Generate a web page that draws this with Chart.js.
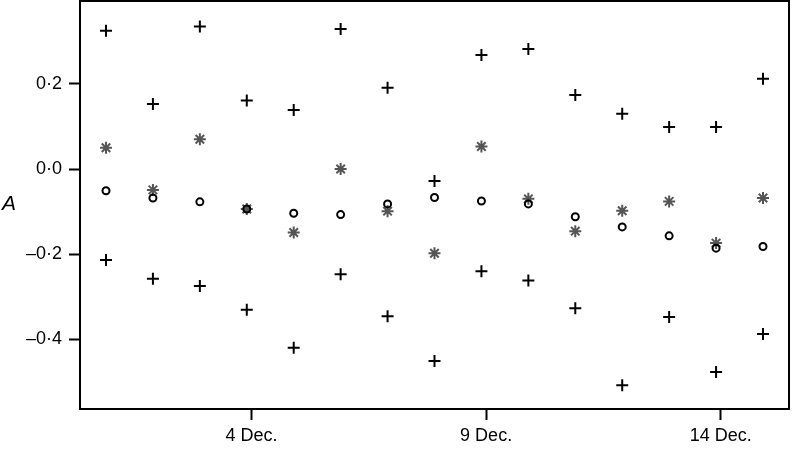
<!DOCTYPE html>
<html>
<head>
<meta charset="utf-8">
<script src="https://cdn.jsdelivr.net/npm/chart.js@4"></script>
<style>
  html, body { margin: 0; padding: 0; background: #fff; }
  canvas { display: block; }
</style>
</head>
<body>
<canvas id="myChart" width="792" height="450"></canvas>
<script>
// days of December, observations sit slightly before the day tick
const days = [1, 2, 3, 4, 5, 6, 7, 8, 9, 10, 11, 12, 13, 14, 15];
const obsOffset = -0.1;

const upperPlus = [0.325, 0.153, 0.335, 0.161, 0.139, 0.329, 0.191, -0.028, 0.268, 0.282, 0.174, 0.130, 0.099, 0.099, 0.212];
const lowerPlus = [-0.214, -0.258, -0.275, -0.331, -0.420, -0.247, -0.346, -0.451, -0.240, -0.262, -0.327, -0.508, -0.348, -0.477, -0.388];
const stars = [0.050, -0.049, 0.070, -0.094, -0.149, 0.000, -0.099, -0.198, 0.053, -0.070, -0.146, -0.098, -0.076, -0.174, -0.068];
const circles = [-0.051, -0.068, -0.077, -0.094, -0.104, -0.107, -0.082, -0.067, -0.075, -0.082, -0.112, -0.136, -0.157, -0.186, -0.182];

const xTicks = [4, 9, 14];
const xTickLabels = ['4 Dec.', '9 Dec.', '14 Dec.'];
const yTicks = [-0.4, -0.2, 0.0, 0.2];
const yTickLabels = ['\u20130\u00b74', '\u20130\u00b72', '0\u00b70', '0\u00b72'];

function pts(values) {
    return values.map((v, i) => ({ x: days[i] + obsOffset, y: v }));
}

const FONT = { family: '"Liberation Sans", Arial, sans-serif', size: 18 };

function noPad(scale) {
    scale.paddingTop = 0;
    scale.paddingBottom = 0;
    scale.paddingLeft = 0;
    scale.paddingRight = 0;
}

const framePlugin = {
    id: 'frame',
    afterDraw(chart) {
        const { ctx, chartArea } = chart;
        ctx.save();
        ctx.strokeStyle = '#000';
        ctx.lineWidth = 2;
        ctx.beginPath();
        ctx.moveTo(chartArea.left, chartArea.top);
        ctx.lineTo(chartArea.right, chartArea.top);
        ctx.lineTo(chartArea.right, chartArea.bottom);
        ctx.stroke();
        // y axis name, upright
        ctx.fillStyle = '#000';
        ctx.font = 'italic 21px "Liberation Sans", Arial, sans-serif';
        ctx.textAlign = 'center';
        ctx.textBaseline = 'middle';
        ctx.fillText('A', 9, 204);
        ctx.restore();
    }
};

const ctx = document.getElementById('myChart').getContext('2d');
const myChart = new Chart(ctx, {
    type: 'scatter',
    data: {
        datasets: [
            {
                label: 'circles',
                data: pts(circles),
                pointStyle: 'circle',
                pointRadius: 3.5,
                borderColor: '#000',
                backgroundColor: 'rgba(0,0,0,0)',
                pointBorderWidth: 2
            },
            {
                label: 'stars',
                data: pts(stars),
                pointStyle: 'star',
                pointRadius: 6,
                borderColor: '#555',
                backgroundColor: '#555',
                pointBorderWidth: 2
            },
            {
                label: 'upper',
                data: pts(upperPlus),
                pointStyle: 'cross',
                pointRadius: 6,
                borderColor: '#000',
                pointBorderWidth: 2
            },
            {
                label: 'lower',
                data: pts(lowerPlus),
                pointStyle: 'cross',
                pointRadius: 6,
                borderColor: '#000',
                pointBorderWidth: 2
            }
        ]
    },
    options: {
        responsive: false,
        animation: false,
        layout: { autoPadding: false, padding: { top: 1, right: 3, left: 0, bottom: 0 } },
        plugins: {
            legend: { display: false },
            tooltip: { enabled: false }
        },
        scales: {
            x: {
                type: 'linear',
                min: 0.346,
                max: 15.454,
                border: { display: true, color: '#000', width: 2 },
                grid: { drawOnChartArea: false, drawTicks: true, tickLength: 11, tickColor: '#000', tickWidth: 2 },
                afterBuildTicks: scale => { scale.ticks = xTicks.map(v => ({ value: v })); },
                afterFit: scale => { scale.height = 41; noPad(scale); },
                ticks: {
                    color: '#000',
                    font: FONT,
                    padding: 5,
                    maxRotation: 0,
                    callback: value => xTickLabels[xTicks.indexOf(value)]
                }
            },
            y: {
                type: 'linear',
                min: -0.564,
                max: 0.395,
                border: { display: true, color: '#000', width: 2 },
                grid: { drawOnChartArea: false, drawTicks: true, tickLength: 11, tickColor: '#000', tickWidth: 2 },
                afterBuildTicks: scale => { scale.ticks = yTicks.map(v => ({ value: v })); },
                afterFit: scale => { scale.width = 80; noPad(scale); },
                ticks: {
                    color: '#000',
                    font: FONT,
                    padding: 7,
                    callback: value => yTickLabels[yTicks.indexOf(value)]
                }
            }
        }
    },
    plugins: [framePlugin]
});
</script>
</body>
</html>
